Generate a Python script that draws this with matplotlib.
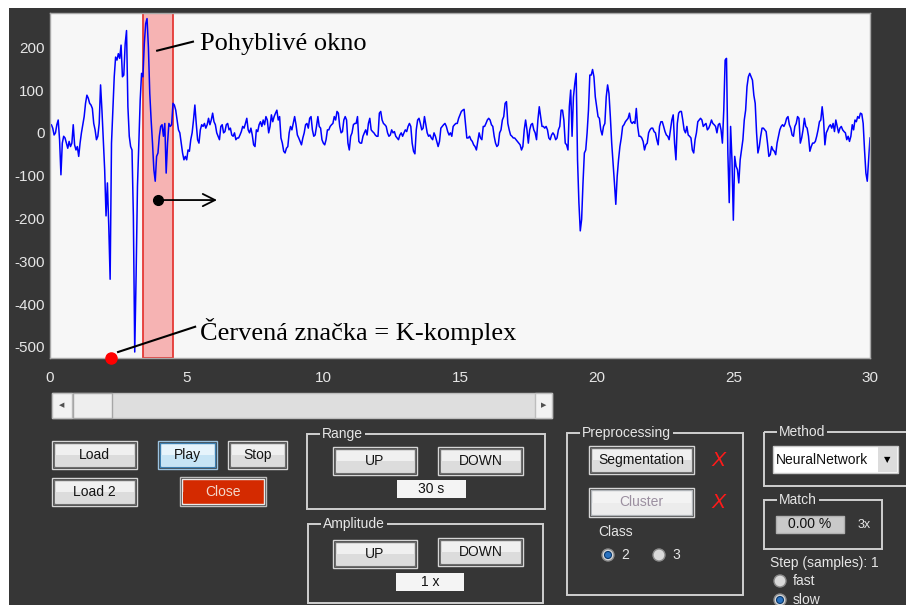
import matplotlib
matplotlib.use("Agg")
import matplotlib.pyplot as plt
import numpy as np
from matplotlib.patches import Rectangle, Circle

plt.rcParams['font.family'] = ['Liberation Sans', 'DejaVu Sans']
plt.rcParams['axes.unicode_minus'] = False

# EEG trace in uV, 20 samples per second, one row per second
eeg = [
    19, 19, 11, -5, 0, 19, 30, -16, -98, -24, -8, -12, -24, -36, -20, -32, -24, 19, -28, -40,
    -32, -55, -24, 0, 19, 38, 69, 88, 81, 69, 65, 57, 22, 7, -16, -8, 22, 112, 53, -16,
    -86, -194, -117, -218, -342, -24, 53, 131, 177, 170, 185, 174, 205, 131, 135, 208, 239, 61, -8, -32,
    -40, -194, -512, -334, -125, -24, 77, 139, 131, 208, 255, 267, 200, 92, 30, -24, -86, -113, -55, -47,
    -8, 15, 19, -8, 22, -94, -24, 22, 15, 19, 69, 65, 53, 30, 7, 0, -24, -47, -63, -55,
    -63, -40, -43, -16, 0, 30, 65, 22, -16, -24, 7, 19, 15, 22, 11, 19, 34, 19, 30, 46,
    26, 19, 0, -8, -16, 15, 19, 0, 3, 19, 22, 7, 11, -5, -8, 0, -16, -12, -12, -5,
    3, 15, 11, 22, 34, 7, 0, 11, -5, -28, -32, 7, 3, 19, 26, 15, 30, 19, 38, 30,
    0, 15, 42, 26, 38, 46, 53, 30, 38, -12, -24, -43, -47, -36, -32, 0, 15, 7, 22, 38,
    19, -5, -12, -20, -28, -12, 0, 19, 22, 11, 34, 38, 7, -8, -5, 15, 38, 15, 11, -16,
    -24, -28, -16, 7, 7, 15, 19, 22, 38, 30, 50, 46, 15, 0, 3, 30, 38, 30, -24, -40,
    -8, 0, 19, 22, 22, 38, -20, -24, -24, -8, 0, 7, -5, 22, 34, 7, 3, 0, -5, -8,
    -8, 46, 50, 30, 22, 19, 15, 0, -8, -5, 7, 0, 3, -8, -12, -16, -5, 0, -8, 0,
    7, 3, 15, 22, 15, -24, -43, -49, 7, 30, 34, 22, 7, 11, 38, 19, 0, -8, -5, -12,
    -16, 0, -8, -20, -32, -20, 11, 15, 19, 22, 15, 3, -5, 0, -8, 15, 19, 22, 22, 34,
    42, 50, 53, 55, 22, -12, -12, -8, -16, -20, -28, -32, -40, -20, 0, -12, -16, 15, 15, 22,
    30, 34, 30, 19, 15, -8, -24, -32, -28, 0, 7, 30, 38, 69, 73, 22, 7, -5, -8, -12,
    -12, -16, -20, -24, -28, -40, -32, 7, 30, 7, -24, 7, 19, 22, 7, 0, -16, 30, 61, 38,
    15, 15, 11, 15, 7, -12, -16, -5, 0, -5, -16, -12, 7, 15, 53, 53, 30, -24, -28, -40,
    61, 100, -8, 84, 115, 139, -63, -163, -229, -202, -117, -47, -40, 0, 53, 135, 135, 148, 131, 84,
    61, 38, 34, 7, -5, 15, 22, 84, 112, 92, 38, -24, -70, -117, -167, -102, -63, -32, -12, 15,
    19, 26, 30, 34, 46, 26, 22, 26, 22, 57, 15, -8, -8, -12, -20, -40, -28, -24, 0, 7,
    11, 11, 3, 0, -16, -28, 15, 26, 26, 15, 3, -5, -8, -16, 7, 30, 42, -24, -63, 22,
    46, 50, 50, 30, 7, 0, 15, -5, -8, -12, -40, -47, -16, 0, 26, 30, 34, 30, 15, 19,
    22, 7, 11, 19, 30, 22, 19, 15, 0, 19, 22, 7, -24, 53, 170, 174, -47, -163, 15, -63,
    -204, -55, -78, -86, -117, -63, -40, -16, 30, 53, 108, 131, 139, 131, 123, 88, 69, 0, -47, -32,
    -8, 11, 11, 7, 3, -24, -55, -51, -32, -40, -43, -51, -24, -8, 7, 15, 19, 15, 22, 34,
    38, 19, 11, -5, -8, 15, 22, 38, 34, -24, -12, 7, 34, 15, 11, -8, -43, -32, -24, -24,
    -20, -8, 7, 26, 30, 61, 30, -28, 0, 7, 15, 19, 11, 22, 3, 30, 15, 0, 11, 15,
    7, 3, 0, -16, -8, -20, -8, 19, 7, 30, 26, 38, 34, 46, 44, 22, -40, -94, -113, -63,
    -12,
]
fs = 20
window = [3.4, 4.5]        # moving window (s)
kcomplex_marks = [2.23]    # K-complex markers (s)
xticks = [0, 5, 10, 15, 20, 25, 30]
yticks = [-500, -400, -300, -200, -100, 0, 100, 200]

BG = '#363636'
LABEL = '#e6e6e6'
W, H = 906, 605

fig = plt.figure(figsize=(W / 100, H / 100), dpi=100, facecolor='white')

# full-window overlay in pixel units for the control panel
ui = fig.add_axes([0, 0, 1, 1], zorder=0)
ui.set_xlim(0, W)
ui.set_ylim(H, 0)
ui.axis('off')
ui.add_patch(Rectangle((9, 8), W - 9, H - 8, facecolor=BG, edgecolor='none'))


def rect(x0, y0, x1, y1, **kw):
    ui.add_patch(Rectangle((x0, y0), x1 - x0, y1 - y0, **kw))


def button(x0, y0, x1, y1, label, top='#f0f0f0', bottom='#dcdcdc',
           edge='#6e6e6e', outer='#d6d6d6', color='#141414'):
    rect(x0, y0, x1, y1, facecolor='none', edgecolor=outer, lw=1)
    rect(x0 + 2, y0 + 2, x1 - 2, y1 - 2, facecolor=top, edgecolor=edge, lw=1)
    ym = (y0 + y1) / 2
    rect(x0 + 3, ym, x1 - 3, y1 - 3, facecolor=bottom, edgecolor='none')
    ui.text((x0 + x1) / 2, ym, label, ha='center', va='center',
            fontsize=10, color=color)


def groupbox(x0, y0, x1, y1, title):
    rect(x0, y0, x1, y1, facecolor='none', edgecolor='#d0d0d0', lw=1.4)
    ui.text(x0 + 15, y0, title, ha='left', va='center', fontsize=10,
            color=LABEL, bbox=dict(facecolor=BG, edgecolor='none', pad=1.5))


def field(x0, y0, x1, y1, label, face='#f4f4f4', edge='none'):
    rect(x0, y0, x1, y1, facecolor=face, edgecolor=edge, lw=1)
    ui.text((x0 + x1) / 2, (y0 + y1) / 2, label, ha='center', va='center',
            fontsize=10, color='#111111')


def radio(x, y, label, selected=False):
    ui.add_patch(Circle((x, y), 6, facecolor='#d9d9d9', edgecolor='#8c8c8c', lw=1))
    if selected:
        ui.add_patch(Circle((x, y), 3.5, facecolor='#2a72c0', edgecolor='#0d3b6e', lw=0.8))
    ui.text(x + 13, y, label, ha='left', va='center', fontsize=10, color=LABEL)


# scrollbar
rect(52, 393, 552, 418, facecolor='#dedede', edgecolor='#bdbdbd', lw=1)
rect(52, 393, 72, 418, facecolor='#f2f2f2', edgecolor='#bdbdbd', lw=1)
rect(73, 393, 112, 418, facecolor='#eeeeee', edgecolor='#a6a6a6', lw=1)
rect(535, 393, 552, 418, facecolor='#f2f2f2', edgecolor='#bdbdbd', lw=1)
ui.text(62, 405.5, '\u25c0', ha='center', va='center', fontsize=5, color='#505050',
        family='DejaVu Sans')
ui.text(544, 405.5, '\u25b6', ha='center', va='center', fontsize=5, color='#505050',
        family='DejaVu Sans')

# transport buttons
button(52, 441, 137, 469, 'Load')
button(52, 478, 137, 506, 'Load 2')
button(158, 441, 217, 469, 'Play', top='#e6f4fc', bottom='#c6e4f5',
       edge='#3c7fb1', outer='#9cc3e0')
button(228, 441, 287, 469, 'Stop')
button(180, 477, 266, 506, 'Close', top='#d42a00', bottom='#d42a00',
       edge='#e9e9e9', outer='#bdbdbd', color='#f3d8cc')

# range / amplitude
groupbox(307, 434, 545, 509, 'Range')
button(333, 447, 417, 475, 'UP')
button(438, 447, 523, 475, 'DOWN')
field(397, 480, 466, 498, '30 s')

groupbox(308, 524, 543, 603, 'Amplitude')
button(333, 540, 417, 568, 'UP')
button(438, 538, 523, 566, 'DOWN')
field(396, 573, 464, 591, '1 x')

# preprocessing
groupbox(567, 433, 743, 595, 'Preprocessing')
button(589, 446, 694, 474, 'Segmentation')
button(589, 488, 694, 517, 'Cluster', top='#f3f3f3', bottom='#ececec',
       edge='#b0b4b8', outer='#d6d6d6', color='#9b8fa0')
for yy in (461, 502):
    ui.text(718, yy, 'X', ha='center', va='center', fontsize=15,
            style='italic', color='#ff1a1a')
ui.text(598, 532, 'Class', ha='left', va='center', fontsize=10, color=LABEL)
radio(608, 555, '2', selected=True)
radio(659, 555, '3')

# method / match
groupbox(764, 432, 915, 486, 'Method')
rect(773, 446, 898, 473, facecolor='#ffffff', edgecolor='#c8c8c8', lw=1)
rect(878, 447, 897, 472, facecolor='#dcdcdc', edgecolor='none')
ui.text(776, 459.5, 'NeuralNetwork', ha='left', va='center', fontsize=10, color='#111111')
ui.text(887.5, 460, '\u25bc', ha='center', va='center', fontsize=6, color='#000000',
        family='DejaVu Sans')

groupbox(764, 500, 882, 549, 'Match')
field(776, 516, 844, 533, '0.00 %', face='#c9c9c9', edge='#b0b0b0')
ui.text(864, 525, '3x', ha='center', va='center', fontsize=9, color=LABEL)

ui.text(770, 563, 'Step (samples): 1', ha='left', va='center', fontsize=10, color=LABEL)
radio(780, 581, 'fast')
radio(780, 600, 'slow', selected=True)

# signal axes
ax = fig.add_axes([50 / W, 1 - 358 / H, 820 / W, 345 / H], zorder=2)
ax.set_facecolor('#f7f7f7')
t = np.arange(len(eeg)) / fs
ax.axvspan(window[0], window[1], facecolor='#f6b3b3', edgecolor='#e53935',
           lw=1.3, zorder=1)
ax.plot(t, eeg, color='#0000ff', lw=1.1, zorder=2)
ax.set_xlim(0, 30)
ax.set_ylim(-526, 280)
ax.set_xticks(xticks)
ax.set_yticks(yticks)
ax.tick_params(length=0, labelsize=11, labelcolor=LABEL)
ax.tick_params(axis='x', pad=9)
ax.tick_params(axis='y', pad=4)
for s in ax.spines.values():
    s.set_color('#a8a8a8')
    s.set_linewidth(1)

ax.plot(kcomplex_marks, [-526] * len(kcomplex_marks), 'o', color='#ff0000',
        ms=8, clip_on=False, zorder=4)

serif = ['Liberation Serif', 'DejaVu Serif']
ax.text(5.49, 208, 'Pohyblivé okno', family=serif, fontsize=19,
        ha='left', va='center', color='black', zorder=5)
ax.plot([3.92, 5.23], [192, 213], color='black', lw=1.5, zorder=5)
ax.text(5.49, -465, 'Červená značka = K-komplex', family=serif, fontsize=19,
        ha='left', va='center', color='black', zorder=5)
ax.plot([2.49, 5.31], [-512, -453], color='black', lw=1.5, zorder=5)
ax.plot([3.95], [-157], 'o', color='black', ms=7, zorder=5)
ax.annotate('', xy=(6.11, -157), xytext=(3.95, -157),
            arrowprops=dict(arrowstyle='->', lw=1.3, color='black',
                            mutation_scale=22, shrinkA=0, shrinkB=0), zorder=5)

fig.savefig('out.png', dpi=100, facecolor='white')
